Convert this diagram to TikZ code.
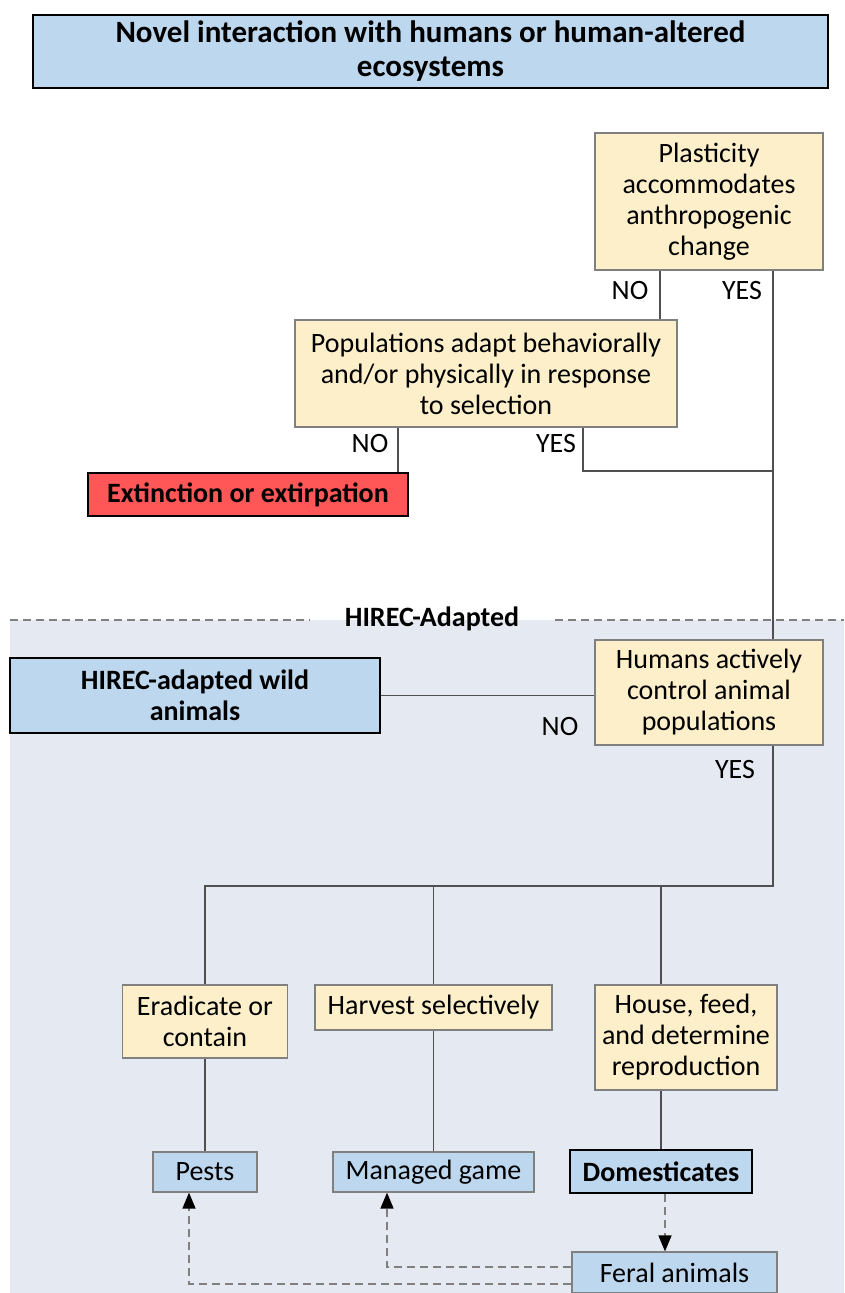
\documentclass[tikz,border=0pt]{standalone}
\usepackage{fontspec}
\setmainfont{Carlito}
\usetikzlibrary{arrows.meta, positioning, backgrounds}
\definecolor{boxblue}{HTML}{BDD7EE}
\definecolor{boxyellow}{HTML}{FCEFC9}
\definecolor{boxred}{HTML}{FF5757}
\definecolor{zonebg}{HTML}{E5E9F1}
\definecolor{linegray}{HTML}{505050}

\begin{document}
\begin{tikzpicture}[x=1pt, y=-1pt,
    txt/.style={font=\fontsize{28}{31}\selectfont},
    qbox/.style={draw=gray, line width=1.2pt, fill=boxyellow, align=center, inner sep=0pt, txt},
    outbox/.style={draw=gray, line width=1.2pt, fill=boxblue, align=center, inner sep=0pt, txt},
    keybox/.style={draw=black, line width=2.5pt, align=center, inner sep=0pt, font=\fontsize{28}{31}\selectfont\bfseries},
    link/.style={draw=linegray, line width=1.5pt},
    feralarrow/.style={draw=gray, line width=1.5pt, dash pattern=on 8pt off 5pt, -{Triangle[length=16pt, width=13pt, color=black]}},
    answer/.style={txt, inner sep=0pt}
]
\useasboundingbox (0,0) rectangle (844,1293);

% Background zone for HIREC-adapted
\fill[zonebg] (10,620) rectangle (844,1293);
\draw[gray, line width=1.5pt, dash pattern=on 8pt off 5pt] (10,620) -- (310,620);
\draw[gray, line width=1.5pt, dash pattern=on 8pt off 5pt] (555,620) -- (844,620);
\node[font=\fontsize{28}{31}\selectfont\bfseries, inner sep=0pt] (zone) at (432,619) {HIREC-Adapted};

% Nodes
\node[keybox, fill=boxblue, minimum width=795, minimum height=73, font=\fontsize{31}{34}\selectfont\bfseries] (top) at (430.5,51.5) {Novel interaction with humans or human-altered\\ecosystems};

\node[qbox, minimum width=228, minimum height=137] (plast) at (709,201.5) {Plasticity\\accommodates\\anthropogenic\\change};
\node[qbox, minimum width=382, minimum height=107] (pop) at (486,373.5) {Populations adapt behaviorally\\and/or physically in response\\to selection};
\node[keybox, fill=boxred, minimum width=320, minimum height=43] (ext) at (248,494.5) {Extinction or extirpation};

\node[keybox, fill=boxblue, minimum width=370, minimum height=75] (wild) at (195,695.5) {HIREC-adapted wild\\animals};
\node[qbox, minimum width=228, minimum height=105] (humans) at (709,692.5) {Humans actively\\control animal\\populations};

\node[qbox, minimum width=165, minimum height=73] (erad) at (205,1021.5) {Eradicate or\\contain};
\node[qbox, minimum width=237, minimum height=45] (harv) at (433.5,1007.5) {Harvest selectively};
\node[qbox, minimum width=182, minimum height=105] (house) at (686,1037.5) {House, feed,\\and determine\\reproduction};

\node[outbox, minimum width=104, minimum height=40] (pests) at (205,1172) {Pests};
\node[outbox, minimum width=201, minimum height=40] (game) at (433.5,1172) {Managed game};
\node[keybox, fill=boxblue, minimum width=182, minimum height=43] (dom) at (661,1171.5) {Domesticates};
\node[outbox, minimum width=205, minimum height=41] (feral) at (674.5,1272.5) {Feral animals};

% Answer labels
\node[answer] (plastno) at (630,291) {NO};
\node[answer] (plastyes) at (742,291) {YES};
\node[answer] (popno) at (370,444) {NO};
\node[answer] (popyes) at (556,444) {YES};
\node[answer] (humno) at (560,727) {NO};
\node[answer] (humyes) at (735,770) {YES};

% Helper coordinates
\coordinate (trunk) at (773,0);
\coordinate (nojoin) at (660,0);
\coordinate (extjoin) at (398,0);
\coordinate (yesjoin) at (583,471);
\coordinate (split) at (773,886);
\coordinate (gamebend) at (387,1267);
\coordinate (pestbend) at (189,1284);

% Connections
\draw[link] (plast.south -| nojoin) -- (pop.north -| nojoin);
\draw[link] (plast.south -| trunk) -- (humans.north -| trunk);
\draw[link] (pop.south -| extjoin) -- (ext.north -| extjoin);
\draw[link] (pop.south -| yesjoin) |- (yesjoin -| trunk);
\draw[link] (wild.east) -- (wild.east -| humans.west);
\draw[link] (humans.south -| trunk) -- (split) -- (split -| erad.north) -- (erad.north);
\draw[link] (split -| harv.north) -- (harv.north);
\draw[link] (split -| dom.north) -- (house.north -| dom.north);
\draw[link] (erad.south) -- (pests.north);
\draw[link] (harv.south) -- (game.north);
\draw[link] (house.south -| dom.north) -- (dom.north);

\draw[feralarrow] (dom.south -| 665,0) -- (feral.north -| 665,0);
\draw[feralarrow] (feral.west |- gamebend) -| (game.south -| gamebend);
\draw[feralarrow] (feral.west |- pestbend) -| (pests.south -| pestbend);

\end{tikzpicture}
\end{document}
